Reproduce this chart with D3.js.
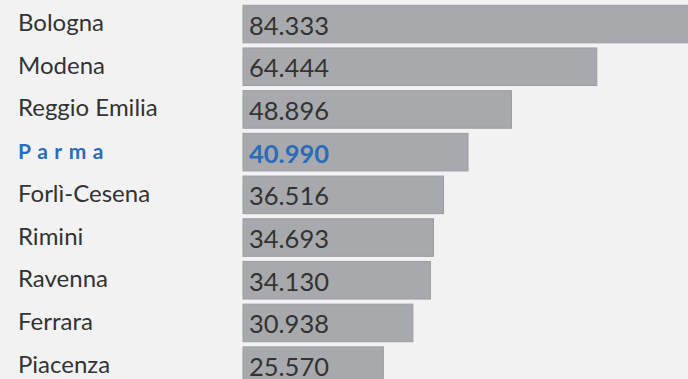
<!DOCTYPE html>
<html>
<head>
<meta charset="utf-8">
<script src="https://cdn.jsdelivr.net/npm/d3@7"></script>
<style>
  html, body { margin: 0; padding: 0; background: #f2f2f2; }
  svg { display: block; }
</style>
</head>
<body>
<div id="chart"></div>
<script>
const provinces = ['Bologna', 'Modena', 'Reggio Emilia', 'Parma', 'Forlì-Cesena', 'Rimini', 'Ravenna', 'Ferrara', 'Piacenza']
const values = [84.333, 64.444, 48.896, 40.990, 36.516, 34.693, 34.130, 30.938, 25.570]
const highlight = 'Parma'

const width = 688
const height = 379

const rows = provinces.map((p, i) => ({ name: p, value: values[i] }))

const svg = d3
  .select('#chart')
  .append('svg')
  .attr('width', width)
  .attr('height', height)

svg.append('rect').attr('width', width).attr('height', height).attr('fill', '#f2f2f2')

const x = d3.scaleLinear().domain([0, 84.333]).range([243, 706])

const y = d3
  .scaleBand()
  .domain(provinces)
  .range([2.7, 2.7 + 9 * 42.7])
  .paddingInner(0.12)
  .paddingOuter(0.06)

const fmt = v => d3.format('.3f')(v)

const row = svg
  .selectAll('g.row')
  .data(rows)
  .join('g')
  .attr('class', 'row')

row
  .append('rect')
  .attr('x', x(0))
  .attr('y', d => y(d.name))
  .attr('width', d => x(d.value) - x(0))
  .attr('height', y.bandwidth())
  .attr('fill', '#a8a9ac')
  .attr('stroke', '#9c9da0')
  .attr('stroke-width', 1)

// province names
row
  .append('text')
  .attr('x', 18)
  .attr('y', d => y(d.name) + y.bandwidth() / 2 + 7)
  .attr('font-family', 'Lato, sans-serif')
  .attr('font-size', d => (d.name === highlight ? '21px' : '24px'))
  .attr('font-weight', d => (d.name === highlight ? 'bold' : 'normal'))
  .attr('letter-spacing', d => (d.name === highlight ? '6.5px' : '0px'))
  .attr('fill', d => (d.name === highlight ? '#2b6cb8' : '#333'))
  .text(d => d.name)

// values inside the bars
row
  .append('text')
  .attr('x', x(0) + 6)
  .attr('y', d => y(d.name) + y.bandwidth() / 2 + 10.5)
  .attr('font-family', 'Lato, sans-serif')
  .attr('font-size', '25.5px')
  .attr('font-weight', d => (d.name === highlight ? 'bold' : 'normal'))
  .attr('fill', d => (d.name === highlight ? '#2b6cb8' : '#333'))
  .text(d => fmt(d.value))
</script>
</body>
</html>
